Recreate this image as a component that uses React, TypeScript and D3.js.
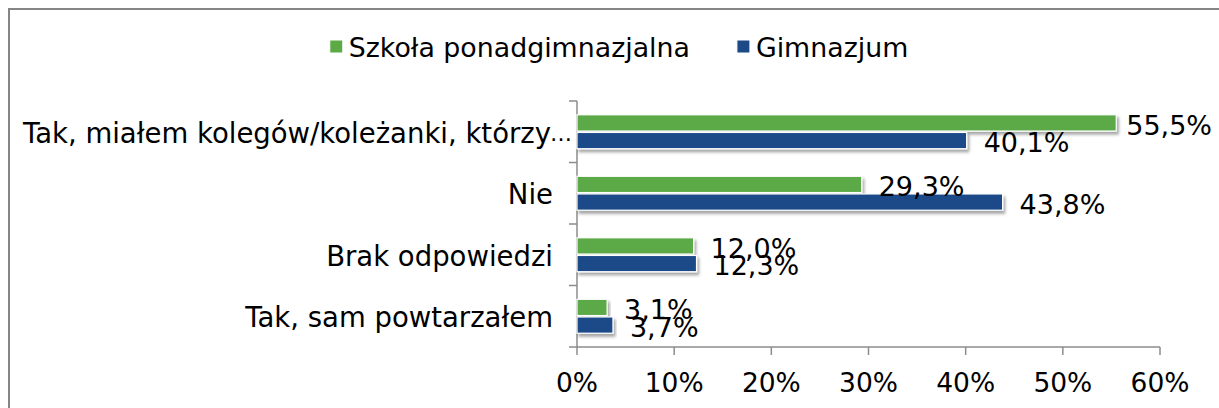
import React, { useEffect, useRef } from "react";
import * as d3 from "d3";

const categories = [
  "Tak, miałem kolegów/koleżanki, którzy…",
  "Nie",
  "Brak odpowiedzi",
  "Tak, sam powtarzałem",
];
const seriesNames = ["Szkoła ponadgimnazjalna", "Gimnazjum"];
const ponadgimnazjalna = [55.5, 29.3, 12.0, 3.1];
const gimnazjum = [40.1, 43.8, 12.3, 3.7];
const xTicks = [0, 10, 20, 30, 40, 50, 60];
const colors = ["#5BAA46", "#1B4A87"];

const W = 1219;
const H = 408;
const FONT = "'DejaVu Sans', Verdana, sans-serif";

export default function App() {
  const ref = useRef<SVGSVGElement>(null);

  useEffect(() => {
    const svg = d3.select(ref.current);
    svg.selectAll("*").remove();

    const defs = svg.append("defs");
    const f = defs
      .append("filter")
      .attr("id", "shadow")
      .attr("x", "-5%")
      .attr("y", "-30%")
      .attr("width", "115%")
      .attr("height", "190%");
    f.append("feDropShadow")
      .attr("dx", 2)
      .attr("dy", 3)
      .attr("stdDeviation", 1.8)
      .attr("flood-color", "#000")
      .attr("flood-opacity", 0.35);

    // frame
    svg
      .append("rect")
      .attr("x", 9)
      .attr("y", 9)
      .attr("width", W + 20)
      .attr("height", H + 20)
      .attr("fill", "#fff")
      .attr("stroke", "#858585")
      .attr("stroke-width", 2);

    const x = d3.scaleLinear().domain([0, 60]).range([577, 1160]);
    const y = d3.scaleBand<string>().domain(categories).range([101, 347]);
    const inner = d3
      .scaleBand<string>()
      .domain(seriesNames)
      .range([0, y.step()])
      .paddingInner(0.08)
      .paddingOuter(0.78);

    const axisColor = "#8c8c8c";

    // x axis
    svg
      .append("line")
      .attr("x1", x(0))
      .attr("x2", x(60))
      .attr("y1", 347)
      .attr("y2", 347)
      .attr("stroke", axisColor)
      .attr("stroke-width", 1.5);
    svg
      .selectAll("line.xt")
      .data(xTicks)
      .join("line")
      .attr("x1", (d) => x(d))
      .attr("x2", (d) => x(d))
      .attr("y1", 347)
      .attr("y2", 355)
      .attr("stroke", axisColor)
      .attr("stroke-width", 1.5);
    svg
      .selectAll("text.xl")
      .data(xTicks)
      .join("text")
      .attr("x", (d) => x(d))
      .attr("y", 392)
      .attr("text-anchor", "middle")
      .attr("font-family", FONT)
      .attr("font-size", 26.5)
      .attr("fill", "#000")
      .text((d) => `${d}%`);

    // y axis
    const bounds = [...categories.map((c) => y(c)!), 347];
    svg
      .append("line")
      .attr("x1", 577)
      .attr("x2", 577)
      .attr("y1", 101)
      .attr("y2", 347)
      .attr("stroke", axisColor)
      .attr("stroke-width", 1.5);
    svg
      .selectAll("line.yt")
      .data(bounds)
      .join("line")
      .attr("x1", 569)
      .attr("x2", 577)
      .attr("y1", (d) => d)
      .attr("y2", (d) => d)
      .attr("stroke", axisColor)
      .attr("stroke-width", 1.5);

    // category labels
    const catSize = 27.5;
    categories.forEach((c) => {
      const cy = y(c)! + y.bandwidth() / 2 + 1;
      const hasEllipsis = c.endsWith("…");
      const main = hasEllipsis ? c.slice(0, -1) : c;
      svg
        .append("text")
        .attr("x", hasEllipsis ? 551 : 553)
        .attr("y", cy)
        .attr("dy", "0.36em")
        .attr("text-anchor", "end")
        .attr("font-family", FONT)
        .attr("font-size", catSize)
        .attr("fill", "#000")
        .text(main);
      if (hasEllipsis) {
        svg
          .append("text")
          .attr("x", 550)
          .attr("y", cy)
          .attr("dy", "0.36em")
          .attr("text-anchor", "start")
          .attr("font-family", FONT)
          .attr("font-size", 22)
          .attr("fill", "#000")
          .text("…");
      }
    });

    const fmt = (v: number) => d3.format(".1f")(v).replace(".", ",") + "%";
    const series = [ponadgimnazjalna, gimnazjum];

    // bars
    series.forEach((vals, si) => {
      svg
        .append("g")
        .selectAll("rect")
        .data(vals)
        .join("rect")
        .attr("x", x(0))
        .attr("y", (_, i) => y(categories[i])! + inner(seriesNames[si])!)
        .attr("width", (d) => x(d) - x(0))
        .attr("height", inner.bandwidth())
        .attr("fill", colors[si])
        .attr("stroke", "#fff")
        .attr("stroke-width", 1.2)
        .attr("filter", "url(#shadow)");
    });

    // labels
    series.forEach((vals, si) => {
      vals.forEach((v, i) => {
        const cy = y(categories[i])! + inner(seriesNames[si])! + inner.bandwidth() / 2 + 2;
        const t = svg
          .append("text")
          .attr("x", x(v) + 17)
          .attr("y", cy)
          .attr("dy", "0.36em")
          .attr("font-family", FONT)
          .attr("font-size", 27)
          .attr("fill", "#000")
          .text(fmt(v));
        const node = t.node() as SVGTextElement;
        const w = node.getComputedTextLength();
        if (x(v) + 17 + w > 1212) {
          t.attr("x", 1212).attr("text-anchor", "end");
        }
      });
    });

    // legend
    const legend = svg.append("g");
    let cx = 0;
    const items: { g: any; w: number }[] = [];
    seriesNames.forEach((name, si) => {
      const g = legend.append("g");
      g.append("rect")
        .attr("x", 0)
        .attr("y", 40)
        .attr("width", 13)
        .attr("height", 13)
        .attr("fill", colors[si])
        .attr("stroke", "#fff")
        .attr("stroke-width", 1);
      const t = g
        .append("text")
        .attr("x", 19)
        .attr("y", 47)
        .attr("dy", "0.36em")
        .attr("font-family", FONT)
        .attr("font-size", 26.8)
        .attr("fill", "#000")
        .text(name);
      const w = 19 + (t.node() as SVGTextElement).getComputedTextLength();
      items.push({ g, w });
    });
    const gap = 47;
    const total = items.reduce((s, it) => s + it.w, 0) + gap;
    cx = 619 - total / 2;
    items.forEach((it) => {
      it.g.attr("transform", `translate(${cx},0)`);
      cx += it.w + gap;
    });
  }, []);

  return (
    <svg
      ref={ref}
      width={W}
      height={H}
      style={{ position: "absolute", left: 0, top: 0, display: "block" }}
    />
  );
}
